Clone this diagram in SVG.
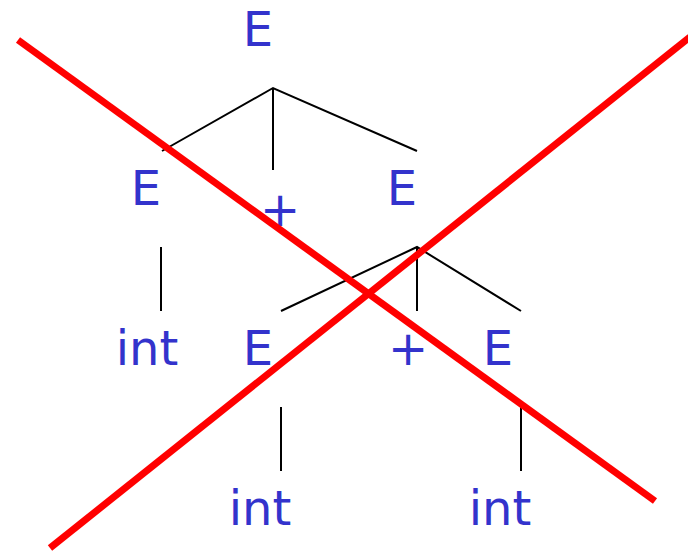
<svg xmlns="http://www.w3.org/2000/svg" width="688" height="554" viewBox="0 0 688 554">
<style>
.lbl{font-family:"DejaVu Sans","Liberation Sans",sans-serif;font-size:48px;fill:#3333cc;text-anchor:middle}
.edge{stroke:#000;stroke-width:2;fill:none}
.cross{stroke:#ff0000;stroke-width:7;fill:none}
</style>
<rect width="688" height="554" fill="#fff"/>
<g id="connectors">
<path class="edge" d="M162,151 L273,88 L417,151 M273,88 L273,170"/>
<path class="edge" d="M161,247 L161,311"/>
<path class="edge" d="M281,311 L417,247 L521,311 M417,247 L417,311"/>
<path class="edge" d="M281,407 L281,471"/>
<path class="edge" d="M521,407 L521,471"/>
</g>
<g id="n_root"><text class="lbl" x="258" y="46">E</text></g>
<g id="n_E1"><text class="lbl" x="146" y="205">E</text></g>
<g id="n_plus1"><text class="lbl" x="280" y="226">+</text></g>
<g id="n_E2"><text class="lbl" x="402" y="205">E</text></g>
<g id="n_int1"><text class="lbl" x="147" y="365">int</text></g>
<g id="n_E3"><text class="lbl" x="258" y="365">E</text></g>
<g id="n_plus2"><text class="lbl" x="408" y="365">+</text></g>
<g id="n_E4"><text class="lbl" x="498" y="365">E</text></g>
<g id="n_int2"><text class="lbl" x="260" y="525">int</text></g>
<g id="n_int3"><text class="lbl" x="500" y="525">int</text></g>
<g id="cross">
<line class="cross" x1="18" y1="40" x2="655" y2="501"/>
<line class="cross" x1="50" y1="548" x2="690" y2="37"/>
</g>
</svg>
